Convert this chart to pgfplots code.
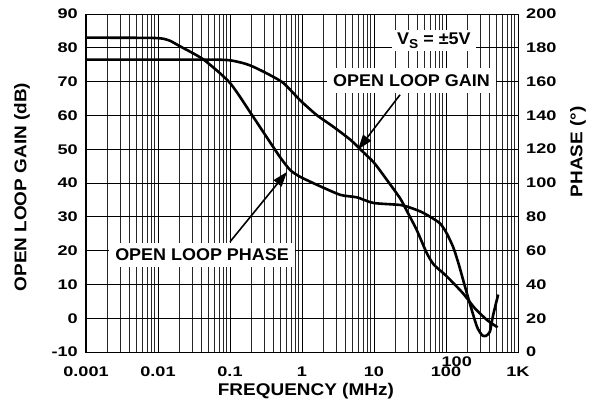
\documentclass[border=0pt]{standalone}
\usepackage{fontspec}
\setmainfont{Liberation Sans}
\usepackage{graphicx}
\usepackage{pgfplots}
\pgfplotsset{compat=1.18}
\usetikzlibrary{arrows.meta}

\newcommand{\tl}[1]{\scalebox{1.3}[1]{#1}}
\newcommand{\lab}[1]{\scalebox{1.12}[1]{#1}}

\begin{document}
\begin{tikzpicture}[font=\bfseries]
\path[use as bounding box] (-86bp,-52bp) rectangle (504bp,352bp);
\begin{axis}[
  width=432bp, height=338bp, scale only axis,
  xmode=log, xmin=0.001, xmax=1000,
  major tick length=0pt, minor tick length=0pt,
  axis line style={black, line width=1bp},
  tick label style={font=\bfseries\fontsize{14}{14}\selectfont, inner sep=0pt},
  clip=false,
  ymin=-10, ymax=90,
  xtick={0.001,0.01,0.1,1,10,100,1000},
  xticklabels={\tl{0.001},\tl{0.01},\tl{0.1},\tl{1},\tl{10},\tl{100},\tl{1K}},
  minor xtick={0.002,0.003,0.004,0.005,0.006,0.007,0.008,0.009,
               0.02,0.03,0.04,0.05,0.06,0.07,0.08,0.09,
               0.2,0.3,0.4,0.5,0.6,0.7,0.8,0.9,
               2,3,4,5,6,7,8,9,
               20,30,40,50,60,70,80,90,
               200,300,400,500,600,700,800,900},
  ytick={-10,0,10,20,30,40,50,60,70,80,90},
  yticklabels={\tl{-10},\tl{0},\tl{10},\tl{20},\tl{30},\tl{40},\tl{50},\tl{60},\tl{70},\tl{80},\tl{90}},
  xmajorgrids=true, ymajorgrids=true, xminorgrids=true,
  major grid style={black, line width=0.7bp},
  minor grid style={black!85, line width=0.55bp},
  xticklabel style={anchor=center, yshift=-19.7bp},
  yticklabel style={anchor=east, xshift=-8bp},
]
% Open loop gain (dB)
\addplot[black, line width=2.6bp, smooth, tension=0.4] coordinates {
 (0.001,76.5) (0.01,76.5) (0.06,76.5) (0.1,76.3) (0.15,75.5) (0.2,74.6)
 (0.32,72.5) (0.55,69.6) (0.93,64.6) (1.58,60.2) (2.7,56.7) (4.7,52.8)
 (6.5,49.9) (10,46) (15,41) (23,35.5) (28,32.1) (39,26.2) (54,19.3)
 (68,15.8) (100,12.6) (170,7.5) (250,3.0) (370,-0.5) (520,-2.7)
};
\node[fill=white, inner xsep=5bp, inner ysep=3bp, font=\bfseries\fontsize{17}{17}\selectfont]
  at (axis cs:68,82.1) {\scalebox{1.06}[1]{V\raisebox{-0.35ex}{\fontsize{13}{13}\selectfont S} = ±5V}};
\node[fill=white, inner xsep=6bp, inner ysep=6.5bp, font=\bfseries\fontsize{17}{17}\selectfont]
  at (axis cs:33.2,70.4) {\scalebox{1.06}[1]{OPEN LOOP GAIN}};
\node[fill=white, inner xsep=6bp, inner ysep=6bp, font=\bfseries\fontsize{17}{17}\selectfont]
  at (axis cs:0.0409,18.8) {\scalebox{1.06}[1]{OPEN LOOP PHASE}};
\draw[line width=1.6bp, -{Triangle[length=15bp, width=10bp]}] (axis cs:23,66.1) -- (axis cs:6.0,49.9);
\draw[line width=1.6bp, -{Triangle[length=15bp, width=10bp]}] (axis cs:0.1,22.6) -- (axis cs:0.62,43.3);
\node[font=\bfseries\fontsize{14}{14}\selectfont] at (axis cs:141,-12.9) {\tl{100}};
\node[rotate=90, font=\bfseries\fontsize{17}{17}\selectfont] at ([xshift=-64bp]rel axis cs:0,0.488) {\lab{OPEN LOOP GAIN (dB)}};
\node[font=\bfseries\fontsize{17}{17}\selectfont] at ([yshift=-39bp]rel axis cs:0.509,0) {\lab{FREQUENCY (MHz)}};
\end{axis}
\begin{axis}[
  width=432bp, height=338bp, scale only axis,
  xmode=log, xmin=0.001, xmax=1000,
  major tick length=0pt, minor tick length=0pt,
  axis line style={black, line width=1bp},
  tick label style={font=\bfseries\fontsize{14}{14}\selectfont, inner sep=0pt},
  clip=false,
  ymin=0, ymax=200,
  axis x line=none, axis y line*=right,
  ytick={0,20,40,60,80,100,120,140,160,180,200},
  yticklabels={\tl{0},\tl{20},\tl{40},\tl{60},\tl{80},\tl{100},\tl{120},\tl{140},\tl{160},\tl{180},\tl{200}},
  yticklabel style={anchor=west, xshift=8bp},
]
% Open loop phase (degrees)
\addplot[black, line width=2.6bp, smooth, tension=0.4] coordinates {
 (0.001,186) (0.009,185.8) (0.014,184.5) (0.02,181) (0.043,173) (0.1,159.2)
 (0.2,140.5) (0.32,127.4) (0.49,115.6) (0.68,107.8) (0.93,103.8) (1.6,99)
 (3.4,93) (5.8,91.5) (9.8,88.2) (23,87) (32,85.4) (48,82.4) (80,76.6)
 (100,71) (126,62) (150,52) (180,40) (210,30) (269,15) (320,9.8) (360,9.6)
 (407,12) (447,21) (530,34)
};
\node[rotate=90, font=\bfseries\fontsize{17}{17}\selectfont] at ([xshift=60bp]rel axis cs:1,0.592) {\lab{PHASE (°)}};
\end{axis}
\end{tikzpicture}
\end{document}
